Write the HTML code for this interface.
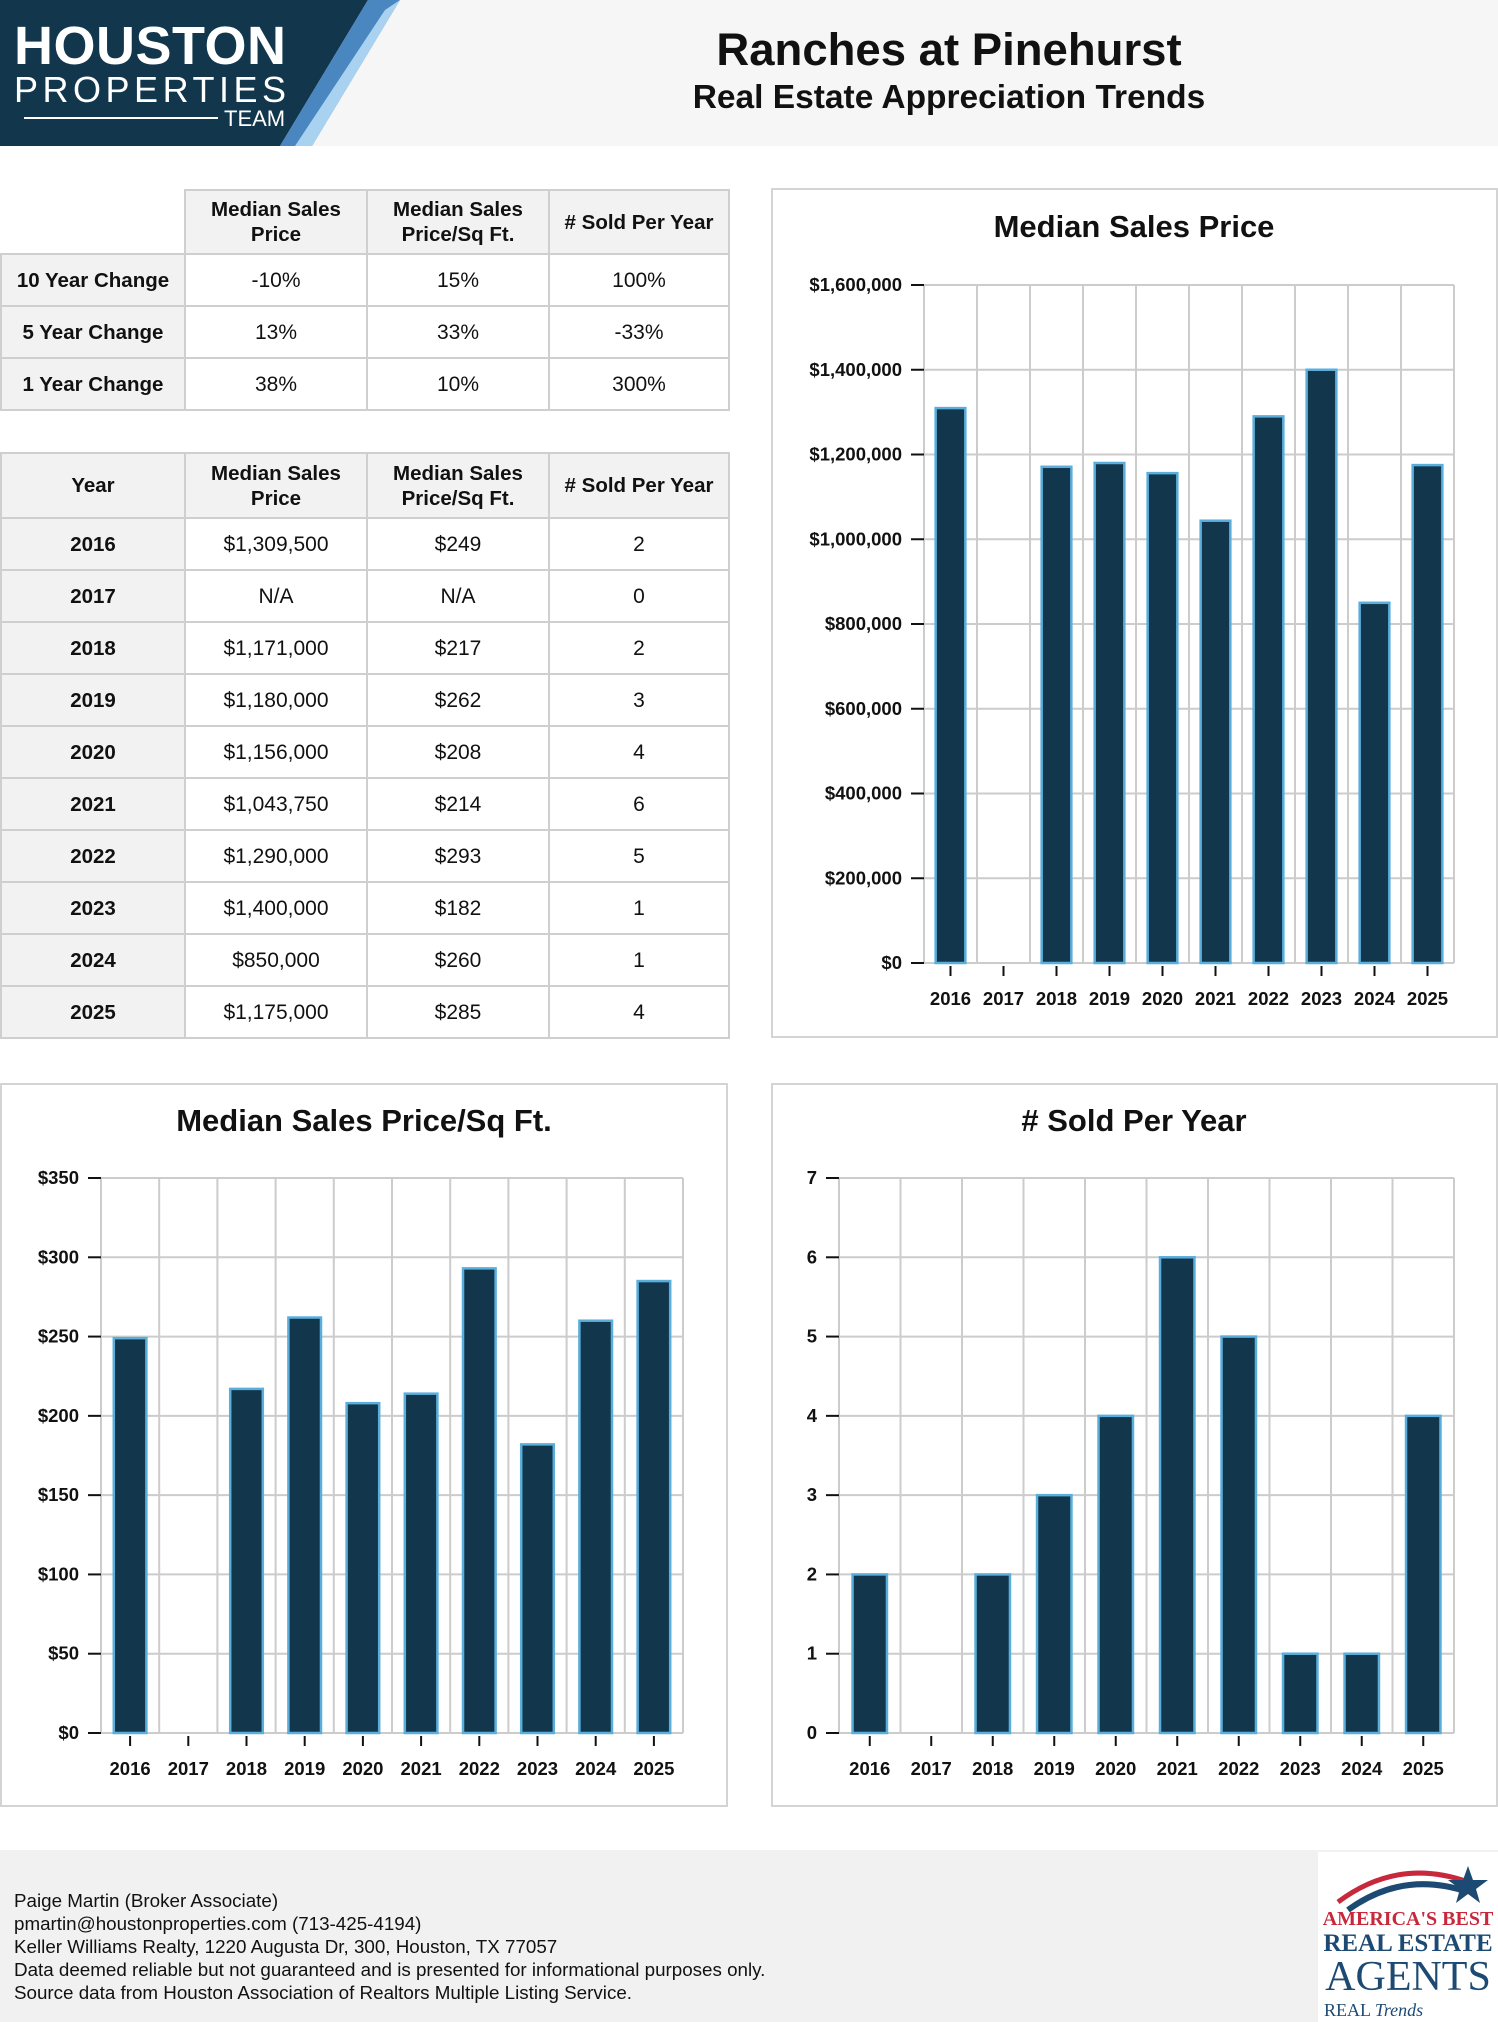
<!DOCTYPE html>
<html><head><meta charset="utf-8">
<style>
*{margin:0;padding:0;box-sizing:border-box}
body{width:1498px;height:2022px;position:relative;background:#fff;font-family:"Liberation Sans",Arial,sans-serif;color:#111;overflow:hidden}
.hdr{position:absolute;left:0;top:0;width:1498px;height:146px;background:#f6f6f6}
table{position:absolute;border-collapse:collapse;table-layout:fixed}
td,th{border:2px solid #cfcfcf;text-align:center;font-size:21px;line-height:25px}
th{background:#f2f2f2;font-weight:bold;font-size:20.5px}
td.lab{background:#f2f2f2;font-weight:bold;font-size:20.5px}
.panel{position:absolute;border:2px solid #d4d4d4;background:#fff}
.foot{position:absolute;left:0;top:1850px;width:1498px;height:172px;background:#f1f1f1}
.foot p{position:absolute;left:14px;font-size:18.8px;line-height:23px;color:#111;white-space:nowrap}
.lg{position:absolute;width:180px;white-space:nowrap;text-align:center}
</style></head><body>
<div class="hdr">
<svg width="1498" height="146" style="position:absolute;left:0;top:0">
<polygon points="0,0 368,0 280,146 0,146" fill="#12374d"/>
<polygon points="368,0 400,0 312,146 280,146" fill="#4a86c0"/>
<polygon points="385,10 400,0 312,146 295,146" fill="#a9d2f0"/>
<text x="14" y="64" font-family="Liberation Sans" font-size="54" font-weight="bold" fill="#fff" textLength="272">HOUSTON</text>
<text x="14" y="102" font-family="Liberation Sans" font-size="36" fill="#fff" textLength="272">PROPERTIES</text>
<line x1="24" y1="118" x2="218" y2="118" stroke="#fff" stroke-width="2"/>
<text x="224" y="126" font-family="Liberation Sans" font-size="22" fill="#fff">TEAM</text>
</svg>
<div style="position:absolute;left:400px;width:1098px;text-align:center;top:24px;font-size:45.5px;font-weight:bold">Ranches at Pinehurst</div>
<div style="position:absolute;left:400px;width:1098px;text-align:center;top:79px;font-size:33.5px;font-weight:bold">Real Estate Appreciation Trends</div>
</div>

<table style="left:0;top:189px;width:728px">
<colgroup><col style="width:184px"><col style="width:182px"><col style="width:182px"><col style="width:180px"></colgroup>
<tr style="height:64px"><td style="border:none;border-bottom:2px solid #cfcfcf"></td><th>Median Sales<br>Price</th><th>Median Sales<br>Price/Sq Ft.</th><th># Sold Per Year</th></tr>
<tr style="height:52px"><td class="lab">10 Year Change</td><td>-10%</td><td>15%</td><td>100%</td></tr>
<tr style="height:52px"><td class="lab">5 Year Change</td><td>13%</td><td>33%</td><td>-33%</td></tr>
<tr style="height:52px"><td class="lab">1 Year Change</td><td>38%</td><td>10%</td><td>300%</td></tr>
</table>

<table style="left:0;top:452px;width:728px">
<colgroup><col style="width:184px"><col style="width:182px"><col style="width:182px"><col style="width:180px"></colgroup>
<tr style="height:65px"><th>Year</th><th>Median Sales<br>Price</th><th>Median Sales<br>Price/Sq Ft.</th><th># Sold Per Year</th></tr>
<tr style="height:52px"><td class="lab">2016</td><td>$1,309,500</td><td>$249</td><td>2</td></tr>
<tr style="height:52px"><td class="lab">2017</td><td>N/A</td><td>N/A</td><td>0</td></tr>
<tr style="height:52px"><td class="lab">2018</td><td>$1,171,000</td><td>$217</td><td>2</td></tr>
<tr style="height:52px"><td class="lab">2019</td><td>$1,180,000</td><td>$262</td><td>3</td></tr>
<tr style="height:52px"><td class="lab">2020</td><td>$1,156,000</td><td>$208</td><td>4</td></tr>
<tr style="height:52px"><td class="lab">2021</td><td>$1,043,750</td><td>$214</td><td>6</td></tr>
<tr style="height:52px"><td class="lab">2022</td><td>$1,290,000</td><td>$293</td><td>5</td></tr>
<tr style="height:52px"><td class="lab">2023</td><td>$1,400,000</td><td>$182</td><td>1</td></tr>
<tr style="height:52px"><td class="lab">2024</td><td>$850,000</td><td>$260</td><td>1</td></tr>
<tr style="height:52px"><td class="lab">2025</td><td>$1,175,000</td><td>$285</td><td>4</td></tr>
</table>

<div class="panel" style="left:771px;top:188px;width:727px;height:850px"></div>
<div class="panel" style="left:0;top:1083px;width:728px;height:724px"></div>
<div class="panel" style="left:771px;top:1083px;width:727px;height:724px"></div>

<svg id="charts" width="1498" height="2022" style="position:absolute;left:0;top:0"></svg>

<div class="foot">
<p style="top:39px">Paige Martin (Broker Associate)</p>
<p style="top:62px">pmartin@houstonproperties.com (713-425-4194)</p>
<p style="top:85px">Keller Williams Realty, 1220 Augusta Dr, 300, Houston, TX 77057</p>
<p style="top:108px">Data deemed reliable but not guaranteed and is presented for informational purposes only.</p>
<p style="top:131px">Source data from Houston Association of Realtors Multiple Listing Service.</p>
<div style="position:absolute;left:1318px;top:2px;width:180px;height:170px;background:#fff;font-family:'Liberation Serif',serif">
<svg width="180" height="60" style="position:absolute;left:0;top:0"><path d="M20 50 Q80 5 150 30" stroke="#c8283c" stroke-width="5" fill="none"/><path d="M30 58 Q85 18 150 40" stroke="#1d4a73" stroke-width="6" fill="none"/><polygon points="150,14 155,28 170,28 158,37 162,51 150,42 138,51 142,37 130,28 145,28" fill="#1d4a73"/></svg>
<div class="lg" style="top:56px;color:#c8283c;font-size:20px;font-weight:bold">AMERICA'S BEST</div>
<div class="lg" style="top:78px;color:#1d4a73;font-size:25px;font-weight:bold">REAL ESTATE</div>
<div class="lg" style="top:102px;color:#1d4a73;font-size:42px;line-height:46px">AGENTS</div>
<div style="position:absolute;top:148px;left:6px;color:#1d4a73;font-size:18px;white-space:nowrap">REAL <i>Trends</i></div>
</div>
</div>

<script>
const years = ["2016","2017","2018","2019","2020","2021","2022","2023","2024","2025"];
const priceValues = [1309500, null, 1171000, 1180000, 1156000, 1043750, 1290000, 1400000, 850000, 1175000];
const priceTicks = [0,200000,400000,600000,800000,1000000,1200000,1400000,1600000];
const priceTickLabels = ["$0","$200,000","$400,000","$600,000","$800,000","$1,000,000","$1,200,000","$1,400,000","$1,600,000"];
const sqftValues = [249, null, 217, 262, 208, 214, 293, 182, 260, 285];
const sqftTicks = [0,50,100,150,200,250,300,350];
const sqftTickLabels = ["$0","$50","$100","$150","$200","$250","$300","$350"];
const soldValues = [2, 0, 2, 3, 4, 6, 5, 1, 1, 4];
const soldTicks = [0,1,2,3,4,5,6,7];
const soldTickLabels = ["0","1","2","3","4","5","6","7"];

const NS = "http://www.w3.org/2000/svg";
const svg = document.getElementById("charts");
function mk(tag, attrs, parent){
  const e = document.createElementNS(NS, tag);
  for (const k in attrs) e.setAttribute(k, attrs[k]);
  (parent||svg).appendChild(e);
  return e;
}
function drawChart(key, title, values, ticks, labels, L, R, T, B, titleX, titleY, fs){
  const g = mk("g", {});
  
  
  const maxV = ticks[ticks.length-1];
  const y = v => B - (v / maxV) * (B - T);
  const bw = (R - L) / years.length;
  const x = i => L + bw * i;
  const t = mk("text", {x:titleX, y:titleY, "text-anchor":"middle", "font-size":31, "font-weight":"bold", "font-family":"Liberation Sans", fill:"#111"}, g);
  t.textContent = title;
  
  
  for (let i = 0; i <= years.length; i++) mk("line", {x1:x(i), x2:x(i), y1:T, y2:B, stroke:"#cccccc", "stroke-width":2}, g);
  ticks.forEach((v, i) => {
    mk("line", {x1:L, x2:R, y1:y(v), y2:y(v), stroke:"#cccccc", "stroke-width":2}, g);
    mk("line", {x1:L-13, x2:L, y1:y(v), y2:y(v), stroke:"#111", "stroke-width":2}, g);
    const tl = mk("text", {x:L-22, y:y(v)+6, "text-anchor":"end", "font-size":fs, "font-weight":"bold", "font-family":"Liberation Sans", fill:"#111"}, g);
    tl.textContent = labels[i];
    
    
  });
  years.forEach((yr, i) => {
    const cx = x(i) + bw/2;
    mk("line", {x1:cx, x2:cx, y1:B+3, y2:B+13, stroke:"#111", "stroke-width":2}, g);
    const xl = mk("text", {x:cx, y:B+42, "text-anchor":"middle", "font-size":18.5, "font-weight":"bold", "font-family":"Liberation Sans", fill:"#111"}, g);
    xl.textContent = yr;
    
    
    const v = values[i];
    if (v) {
      const w = bw * 0.56;
      const r = mk("rect", {x:cx - w/2, y:y(v), width:w, height:B - y(v), fill:"#12374d", stroke:"#5aaedb", "stroke-width":2.5}, g);
      
      
    }
  });
}
drawChart("price", "Median Sales Price", priceValues, priceTicks, priceTickLabels, 924, 1454, 285, 963, 1134, 237, 18.5);
drawChart("sqft", "Median Sales Price/Sq Ft.", sqftValues, sqftTicks, sqftTickLabels, 101, 683, 1178, 1733, 364, 1131, 18.5);
drawChart("sold", "# Sold Per Year", soldValues, soldTicks, soldTickLabels, 839, 1454, 1178, 1733, 1134, 1131, 18.5);
</script>
</body></html>
